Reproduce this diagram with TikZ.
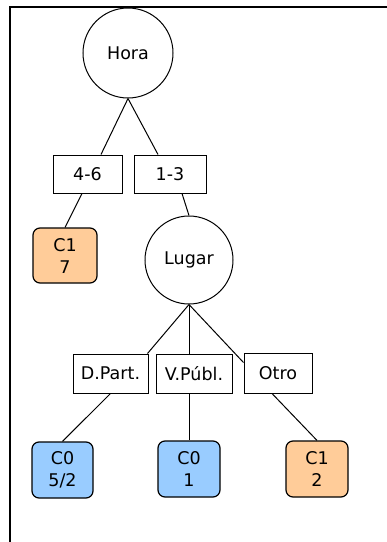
\documentclass[tikz,border=0pt]{standalone}
\usepackage{fontspec}
\setmainfont{DejaVu Sans}
\definecolor{leafor}{RGB}{255,204,153}
\definecolor{leafbl}{RGB}{153,204,255}
\begin{document}
\begin{tikzpicture}[x=1pt,y=-1pt,
  every node/.style={font=\fontsize{17.5}{22}\selectfont, inner sep=0pt, align=center},
  attr/.style={draw, circle, line width=1pt, minimum size=#1},
  valbox/.style={draw, rectangle, line width=1pt},
  leaf/.style={draw, rectangle, rounded corners=7pt, line width=1.2pt, minimum width=62pt, minimum height=56pt},
  conn/.style={line width=1pt},
  frame/.style={line width=2pt}]
\useasboundingbox (0,0) rectangle (387,542);
\coordinate (ftl) at (10,7);
\coordinate (ftr) at (387,7);
\coordinate (fbl) at (10,542);
\draw[frame] (fbl) -- (ftl) -- (ftr);

\node[attr=90pt] (hora) at (128,53) {Hora};
\node[valbox, minimum width=69pt, minimum height=38pt] (b46) at (87.5,174) {4-6};
\node[valbox, minimum width=72pt, minimum height=38pt] (b13) at (170,174) {1-3};
\node[leaf, fill=leafor, minimum width=64pt, minimum height=55pt] (c17) at (65,255.5) {C1\\7};
\node[attr=88pt] (lugar) at (189,260) {Lugar};
\node[valbox, minimum width=75pt, minimum height=39pt] (dpart) at (110.5,373.5) {D.Part.};
\node[valbox, minimum width=76pt, minimum height=39pt] (vpubl) at (194,373.5) {V.Públ.};
\node[valbox, minimum width=68pt, minimum height=40pt] (otro) at (278,373) {Otro};
\node[leaf, fill=leafbl, minimum width=61pt] (c052) at (62.5,470) {C0\\5/2};
\node[leaf, fill=leafbl] (c01) at (189,469) {C0\\1};
\node[leaf, fill=leafor] (c12) at (317,469) {C1\\2};

\draw[conn] (hora.south) -- ([xshift=13.5pt]b46.north);
\draw[conn] (hora.south) -- ([xshift=-12pt]b13.north);
\draw[conn] ([xshift=-5.5pt]b46.south) -- (c17.north);
\draw[conn] ([xshift=12pt]b13.south) -- (lugar.north);
\draw[conn] (lugar.south) -- ([xshift=-1pt]dpart.north east);
\draw[conn] (lugar.south) -- ([xshift=-5pt]vpubl.north);
\draw[conn] (lugar.south) -- ([yshift=-10pt]otro.north west);
\draw[conn] (dpart.south) -- (c052.north);
\draw[conn] ([xshift=-5pt]vpubl.south) -- (c01.north);
\draw[conn] ([xshift=-6pt]otro.south) -- (c12.north);
\end{tikzpicture}
\end{document}
